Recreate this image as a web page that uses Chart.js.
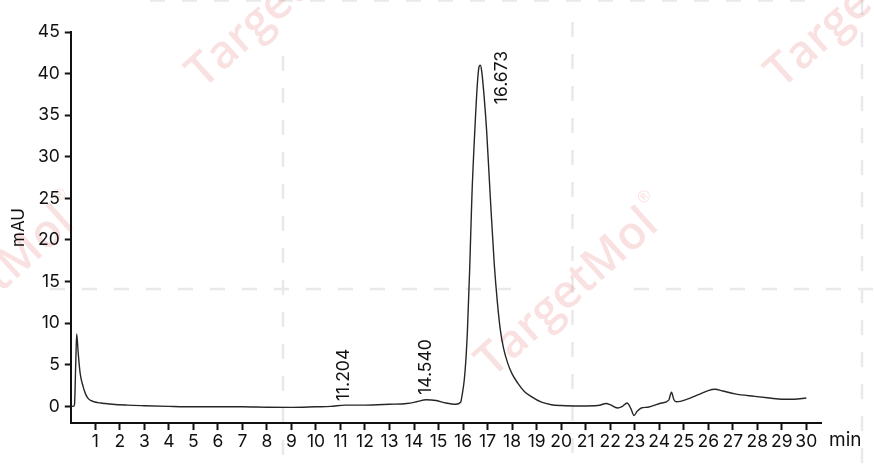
<!DOCTYPE html>
<html>
<head>
<meta charset="utf-8">
<script src="https://cdn.jsdelivr.net/npm/chart.js@4/dist/chart.umd.min.js"></script>
<style>
  html, body { margin: 0; padding: 0; background: #fff; }
  #wrap { width: 874px; height: 464px; position: relative; }
</style>
</head>
<body>
<div id="wrap"><canvas id="c"></canvas></div>
<script>
// ---- data ----
const times = [0, 0.1, 0.15, 0.2, 0.24, 0.3, 0.38, 0.5, 0.6, 0.72, 0.9, 1.1, 1.3, 1.7, 2.3, 3, 4, 5, 6, 7, 8, 9, 10, 10.6, 11.2, 12, 13, 13.7, 14.1, 14.5, 14.9, 15.3, 15.7, 15.9, 15.97, 16.05, 16.12, 16.18, 16.27, 16.36, 16.48, 16.58, 16.65, 16.7, 16.76, 16.86, 16.96, 17.11, 17.27, 17.4, 17.52, 17.65, 17.82, 18.0, 18.23, 18.5, 18.77, 19.2, 19.6, 20.0, 20.8, 21.5, 21.85, 22.0, 22.3, 22.5, 22.69, 22.85, 22.97, 23.1, 23.27, 23.54, 24.09, 24.39, 24.5, 24.6, 24.7, 25.18, 25.6, 26.0, 26.27, 26.6, 27.09, 27.9, 28.5, 29.0, 29.5, 30.0];
const absorbance = [0, 0, 0.2, 5, 8.7, 6.5, 4, 2.4, 1.5, 0.9, 0.6, 0.45, 0.38, 0.25, 0.15, 0.08, 0.0, -0.05, -0.05, -0.05, -0.1, -0.12, -0.05, 0.0, 0.15, 0.15, 0.25, 0.35, 0.55, 0.8, 0.7, 0.4, 0.25, 0.5, 1.5, 3.2, 5.8, 9.2, 16.5, 25.2, 33.2, 38.6, 40.8, 41, 40.3, 37.2, 33.2, 25.2, 17.2, 12.5, 9.2, 7.0, 5.2, 3.9, 2.8, 1.8, 1.2, 0.5, 0.2, 0.1, 0.05, 0.1, 0.35, 0.2, -0.2, 0, 0.4, -0.3, -1.1, -0.6, -0.2, -0.1, 0.4, 0.75, 1.7, 0.8, 0.55, 0.9, 1.4, 1.9, 2.05, 1.85, 1.5, 1.2, 1.0, 0.85, 0.85, 1.0];
const xTickValues = [1,2,3,4,5,6,7,8,9,10,11,12,13,14,15,16,17,18,19,20,21,22,23,24,25,26,27,28,29,30];
const yTickValues = [0,5,10,15,20,25,30,35,40,45];
const peakTimes = [11.204, 14.540, 16.673];
const peakLabels = ['11.204', '14.540', '16.673'];
const yTitle = 'mAU';
const xUnit = 'min';
const watermarkText = 'TargetMol';

const FONT = 'Inter, "Open Sans", "DejaVu Sans", sans-serif';
const WM_FONT = '"Open Sans", sans-serif';

function curveAt(t) {
  for (let i = 1; i < times.length; i++) {
    if (t <= times[i]) {
      const f = (t - times[i-1]) / (times[i] - times[i-1]);
      return absorbance[i-1] + f * (absorbance[i] - absorbance[i-1]);
    }
  }
  return absorbance[absorbance.length - 1];
}

const watermarkPlugin = {
  id: 'watermark',
  beforeDraw(chart) {
    const ctx = chart.ctx;
    ctx.save();
    ctx.strokeStyle = '#e9e9e9';
    ctx.lineWidth = 2.5;
    ctx.setLineDash([15, 17]);
    const segs = [
      [283, 56, 283, 464], [572.5, 22, 572.5, 464], [862, 0, 862, 464],
      [50, 289, 511, 289], [634, 289, 874, 289], [150, 0.5, 820, 0.5]
    ];
    segs.forEach(s => { ctx.beginPath(); ctx.moveTo(s[0], s[1]); ctx.lineTo(s[2], s[3]); ctx.stroke(); });
    ctx.setLineDash([]);
    const centers = [[283, 0], [862, 0], [572.5, 289], [-12, 287]];
    centers.forEach(c => {
      ctx.save();
      ctx.translate(c[0], c[1]);
      ctx.rotate(-42 * Math.PI / 180);
      ctx.fillStyle = 'rgba(225,90,90,0.18)';
      ctx.font = '600 46px ' + WM_FONT;
      ctx.textBaseline = 'middle';
      const w = ctx.measureText(watermarkText).width;
      ctx.font = '400 16px ' + WM_FONT;
      const rw = ctx.measureText('®').width;
      const total = w + rw;
      ctx.font = '600 46px ' + WM_FONT;
      ctx.textAlign = 'left';
      ctx.fillText(watermarkText, -total / 2, 0);
      ctx.font = '400 16px ' + WM_FONT;
      ctx.fillText('®', -total / 2 + w + 2, -20);
      ctx.restore();
    });
    ctx.restore();
  }
};

const labelPlugin = {
  id: 'peakLabels',
  afterDraw(chart) {
    const ctx = chart.ctx;
    const xs = chart.scales.x, ys = chart.scales.y;
    const dx = [-2, -2, 22];
    const dy = [-4, -5, 38];
    ctx.save();
    ctx.fillStyle = '#111';
    ctx.font = '17.5px ' + FONT;
    peakTimes.forEach((t, i) => {
      const px = xs.getPixelForValue(t) + dx[i];
      const py = ys.getPixelForValue(curveAt(t)) + dy[i];
      ctx.save();
      ctx.translate(px, py);
      ctx.rotate(-Math.PI / 2);
      ctx.textAlign = 'left';
      ctx.textBaseline = 'middle';
      ctx.fillText(peakLabels[i], 0, 0);
      ctx.restore();
    });
    ctx.textAlign = 'left';
    ctx.textBaseline = 'middle';
    ctx.font = '19px ' + FONT;
    ctx.fillText(xUnit, xs.right + 8, 440);
    ctx.restore();
  }
};

new Chart(document.getElementById('c'), {
  type: 'line',
  data: {
    datasets: [{
      data: times.map((t, i) => ({ x: t, y: absorbance[i] })),
      borderColor: '#262626',
      borderWidth: 1.4,
      pointRadius: 0,
      fill: false,
      cubicInterpolationMode: 'monotone'
    }]
  },
  options: {
    responsive: true,
    maintainAspectRatio: false,
    animation: false,
    events: [],
    layout: { padding: { left: 0, right: 53, top: 32, bottom: 0 } },
    plugins: { legend: { display: false }, tooltip: { enabled: false } },
    scales: {
      x: {
        type: 'linear',
        min: 0,
        max: 30.6,
        afterBuildTicks: s => { s.ticks = xTickValues.map(v => ({ value: v })); },
        afterFit: s => { s.height = 41; },
        grid: { display: true, drawOnChartArea: false, drawTicks: true, tickLength: 7, tickWidth: 2, tickColor: '#111' },
        border: { display: true, color: '#111', width: 2 },
        ticks: { color: '#111', font: { family: FONT, size: 17.5 }, padding: 1, maxRotation: 0, autoSkip: false }
      },
      y: {
        min: -2,
        max: 45,
        afterBuildTicks: s => { s.ticks = yTickValues.map(v => ({ value: v })); },
        afterFit: s => { s.width = 70.8; },
        grid: { display: true, drawOnChartArea: false, drawTicks: true, tickLength: 6, tickWidth: 2, tickColor: '#111' },
        border: { display: true, color: '#111', width: 2 },
        ticks: { color: '#111', font: { family: FONT, size: 17.5 }, padding: 5 },
        title: { display: true, text: yTitle, color: '#111', font: { family: FONT, size: 17 }, padding: { top: 9, bottom: 0 } }
      }
    }
  },
  plugins: [watermarkPlugin, labelPlugin]
});
</script>
</body>
</html>
